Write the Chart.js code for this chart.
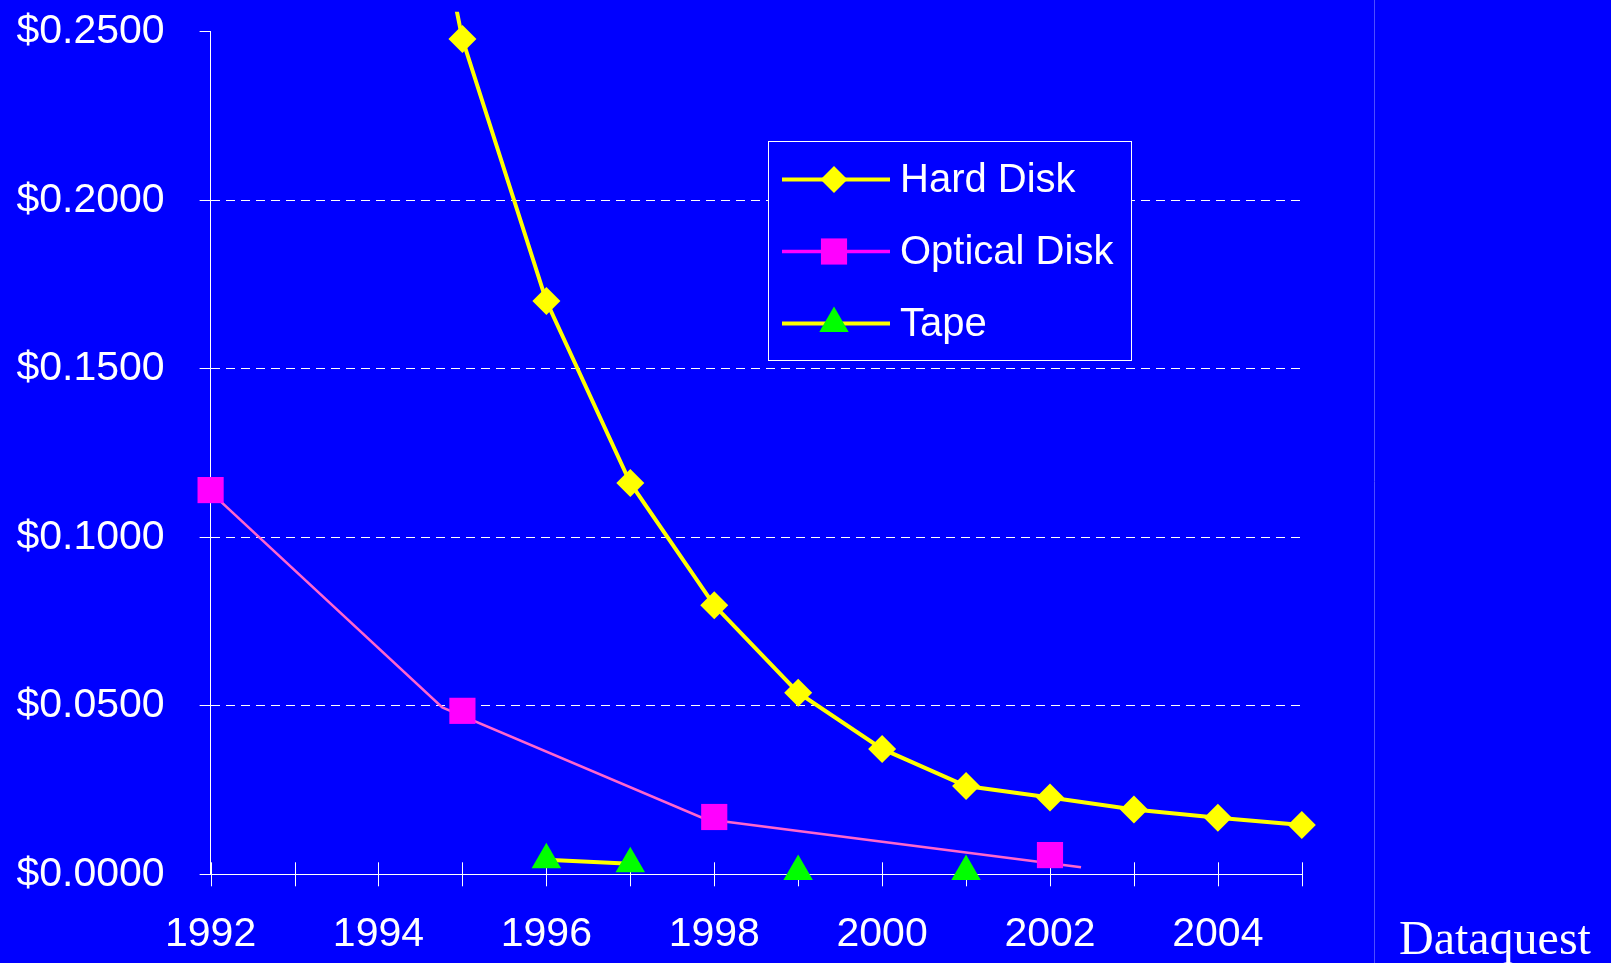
<!DOCTYPE html>
<html>
<head>
<meta charset="utf-8">
<script src="https://cdn.jsdelivr.net/npm/chart.js@4.4.1/dist/chart.umd.min.js"></script>
<style>
  html, body { margin: 0; padding: 0; background: #0000ff; overflow: hidden; }
  #chart { display: block; }
</style>
</head>
<body>
<canvas id="chart" width="1611" height="963"></canvas>
<script>
// cost per megabyte by year
const years = [1992, 1993, 1994, 1995, 1996, 1997, 1998, 1999, 2000, 2001, 2002, 2003, 2004, 2005];
const hardDisk = [null, null, 0.372, 0.2478, 0.1701, 0.1161, 0.0798, 0.0539, 0.0372, 0.0262, 0.0228, 0.0192, 0.0168, 0.0146];
const opticalDisk = [0.114, null, null, 0.0485, null, null, 0.0170, null, null, null, 0.0057, null, null, null];
const tape = [null, null, null, null, 0.0043, 0.0031, null, 0.0008, null, 0.0008, null, null, null, null];
// the pink optical trend line is drawn slightly off the markers on the slide
const opticalTrendYears = [1992, 1994.76, 1997.89, 2002.37];
const opticalTrendValues = [0.1134, 0.0495, 0.0164, 0.0021];
const seriesNames = ['Hard Disk', 'Optical Disk', 'Tape'];

const FONT = "'Liberation Sans', Arial, sans-serif";
const toPoints = (xs, ys) => xs.map((x, i) => ({ x: x, y: ys[i] }));

const slideExtras = {
  id: 'slideExtras',
  beforeDraw(chart) {
    const ctx = chart.ctx;
    ctx.save();
    ctx.fillStyle = '#0000ff';
    ctx.fillRect(0, 0, chart.width, chart.height);
    ctx.strokeStyle = '#4d4dff';
    ctx.lineWidth = 1;
    ctx.beginPath();
    ctx.moveTo(1374.5, 0);
    ctx.lineTo(1374.5, chart.height);
    ctx.stroke();
    ctx.fillStyle = '#ffffff';
    ctx.font = "48px 'Liberation Serif', 'Times New Roman', serif";
    ctx.textBaseline = 'alphabetic';
    ctx.fillText('Dataquest', 1399, 954);
    ctx.restore();
  },
  beforeDatasetsDraw(chart) {
    // category ticks cross the x axis
    const { ctx, chartArea } = chart;
    const xs = chart.scales.x;
    ctx.save();
    ctx.strokeStyle = '#ffffff';
    ctx.lineWidth = 1;
    years.forEach(yr => {
      const px = Math.round(xs.getPixelForValue(yr)) + 0.5;
      ctx.beginPath();
      ctx.moveTo(px, chartArea.bottom - 12);
      ctx.lineTo(px, chartArea.bottom + 12);
      ctx.stroke();
    });
    ctx.restore();
  },
  afterDatasetsDraw(chart) {
    const ctx = chart.ctx;
    const box = { left: 768.5, top: 141.5, right: 1131.5, bottom: 360.5 };
    const rows = [179.5, 251.5, 323.5];
    ctx.save();
    ctx.fillStyle = '#0000ff';
    ctx.fillRect(box.left, box.top, box.right - box.left, box.bottom - box.top);
    ctx.strokeStyle = '#ffffff';
    ctx.lineWidth = 1;
    ctx.strokeRect(box.left, box.top, box.right - box.left, box.bottom - box.top);
    chart.data.datasets.filter(d => d.legendRow !== undefined).forEach(d => {
      const y = rows[d.legendRow];
      ctx.strokeStyle = d.legendLineColor;
      ctx.lineWidth = d.legendLineWidth;
      ctx.beginPath();
      ctx.moveTo(782, y);
      ctx.lineTo(890, y);
      ctx.stroke();
      ctx.fillStyle = d.pointBackgroundColor;
      Chart.helpers.drawPoint(ctx, {
        pointStyle: d.pointStyle, radius: d.legendPointRadius, rotation: 0, borderWidth: 0
      }, 834, y);
      ctx.fillStyle = '#ffffff';
      ctx.font = '40px ' + FONT;
      ctx.textBaseline = 'alphabetic';
      ctx.fillText(d.label, 900, y + 12.5);
    });
    ctx.restore();
  }
};

new Chart(document.getElementById('chart'), {
  type: 'line',
  data: {
    datasets: [
      {
        label: seriesNames[0],
        data: toPoints(years, hardDisk),
        borderColor: '#ffff00',
        borderWidth: 4,
        pointStyle: 'rectRot',
        pointRadius: 14,
        pointBackgroundColor: '#ffff00',
        pointBorderColor: '#ffff00',
        pointBorderWidth: 0,
        spanGaps: false,
        clip: { left: 20, top: 20, right: 20, bottom: 20 },
        legendRow: 0, legendLineColor: '#ffff00', legendLineWidth: 4, legendPointRadius: 13.5
      },
      {
        label: seriesNames[1],
        data: toPoints(years, opticalDisk),
        showLine: false,
        borderColor: '#ff00ff',
        pointStyle: 'rect',
        pointRadius: 18.5,
        pointBackgroundColor: '#ff00ff',
        pointBorderColor: '#ff00ff',
        pointBorderWidth: 0,
        clip: false,
        legendRow: 1, legendLineColor: '#ff00ff', legendLineWidth: 3.3, legendPointRadius: 18.5
      },
      {
        label: seriesNames[2],
        data: toPoints(years, tape),
        borderColor: '#ffff00',
        borderWidth: 4,
        pointStyle: 'triangle',
        pointRadius: 17,
        pointBackgroundColor: '#00ff00',
        pointBorderColor: '#00ff00',
        pointBorderWidth: 0,
        spanGaps: false,
        clip: false,
        legendRow: 2, legendLineColor: '#ffff00', legendLineWidth: 4, legendPointRadius: 17
      },
      {
        label: 'Optical trend',
        data: toPoints(opticalTrendYears, opticalTrendValues),
        borderColor: '#ff66cc',
        borderWidth: 2.6,
        pointRadius: 0,
        clip: false
      }
    ]
  },
  options: {
    responsive: false,
    animation: false,
    events: [],
    layout: { padding: { top: 31.7, right: 309.2, bottom: 0, left: 0 } },
    plugins: { legend: { display: false }, tooltip: { enabled: false } },
    scales: {
      x: {
        type: 'linear',
        min: 1992,
        max: 2005,
        afterFit: s => { s.height = 88.7; s.paddingLeft = 0; s.paddingRight = 0; },
        grid: { display: false, drawTicks: false },
        border: { display: true, color: '#ffffff', width: 1 },
        ticks: {
          stepSize: 1,
          autoSkip: false,
          maxRotation: 0,
          padding: 36,
          color: '#ffffff',
          font: { family: FONT, size: 41 },
          callback: v => (v % 2 === 0 ? String(v) : '')
        }
      },
      y: {
        min: 0,
        max: 0.25,
        afterFit: s => { s.width = 210.6; s.paddingTop = 0; s.paddingBottom = 0; },
        grid: {
          color: c => (c.tick && (c.tick.value < 1e-9 || c.tick.value > 0.249) ? 'rgba(0,0,0,0)' : '#ffffff'),
          lineWidth: 1,
          tickLength: 11,
          tickColor: '#ffffff',
          tickBorderDash: []
        },
        border: { display: true, color: '#ffffff', width: 1, dash: [9, 6] },
        ticks: {
          stepSize: 0.05,
          padding: 35,
          color: '#ffffff',
          font: { family: FONT, size: 41 },
          callback: v => '$' + v.toFixed(4)
        }
      }
    }
  },
  plugins: [slideExtras]
});
</script>
</body>
</html>
